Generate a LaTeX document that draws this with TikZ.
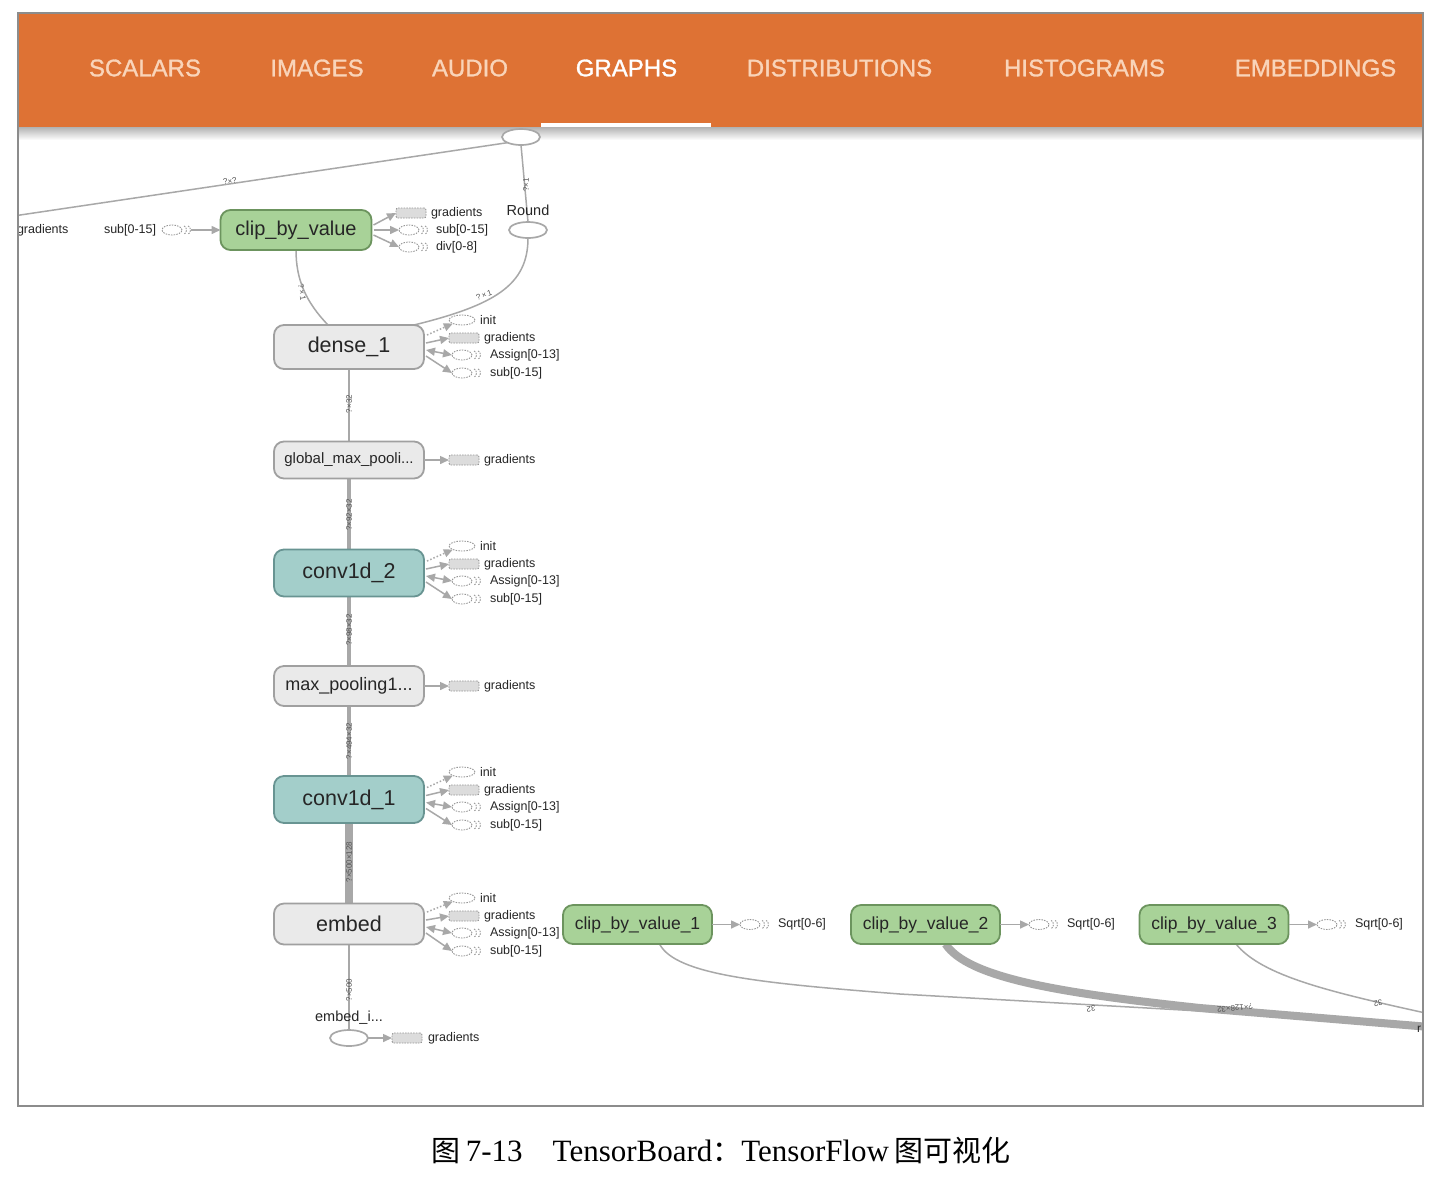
\documentclass[tikz,border=0pt]{standalone}
\usepackage{fontspec}
\setmainfont{Liberation Sans}
\newfontfamily\tabfont[FakeBold=1.2]{Liberation Sans}
\newfontfamily\cjk{Noto Sans CJK SC}
\newfontfamily\capserif{Liberation Serif}
\usetikzlibrary{arrows.meta,shapes.geometric,calc}
\pgfdeclarelayer{edges}
\pgfsetlayers{edges,main}
\definecolor{tborange}{RGB}{222,114,52}
\definecolor{tabtxt}{RGB}{249,212,185}
\definecolor{framec}{RGB}{140,140,140}
\definecolor{txt}{RGB}{38,38,38}
\definecolor{edgec}{RGB}{168,168,168}
\definecolor{lblc}{RGB}{85,85,85}
\definecolor{stubc}{RGB}{150,150,150}
\definecolor{stubfill}{RGB}{220,220,220}
\definecolor{ngray}{RGB}{234,234,234}
\definecolor{ngrayb}{RGB}{160,160,160}
\definecolor{ngreen}{RGB}{168,210,152}
\definecolor{ngreenb}{RGB}{108,148,94}
\definecolor{nteal}{RGB}{163,206,202}
\definecolor{ntealb}{RGB}{104,148,146}
\tikzset{
 every node/.style={inner sep=0pt,outer sep=0pt},
 tab/.style={font=\tabfont\fontsize{24}{24}\selectfont, text=tabtxt},
 opbase/.style={draw, rounded corners=10pt, line width=1.8pt, minimum width=150pt, text=txt},
 opgray/.style={opbase, fill=ngray, draw=ngrayb},
 opgreen/.style={opbase, fill=ngreen, draw=ngreenb},
 opteal/.style={opbase, fill=nteal, draw=ntealb},
 big/.style={font=\fontsize{21.5}{21.5}\selectfont},
 hollow/.style={ellipse, draw=edgec, line width=1.7pt, fill=white, minimum width=38pt, minimum height=16pt},
 edge/.style={draw=edgec, line width=1.5pt},
 sedge/.style={draw=edgec, line width=1.5pt},
 tip/.style={-{Triangle[length=9pt,width=8pt]}},
 bitip/.style={{Triangle[length=9pt,width=8pt]}-{Triangle[length=9pt,width=8pt]}},
 elab/.style={font=\fontsize{8}{8}\selectfont, text=lblc},
 stublab/.style={anchor=west, font=\fontsize{12.5}{12.5}\selectfont, text=txt},
 sdash/.style={draw=stubc, line width=0.9pt, dash pattern=on 1.5pt off 1.2pt},
 gradstub/.style={sdash, fill=stubfill, rounded corners=2pt, minimum width=30pt, minimum height=10pt},
 initstub/.style={sdash, ellipse, fill=white, minimum width=26pt, minimum height=10pt},
 serstub/.style={sdash, ellipse, fill=white, minimum width=20pt, minimum height=10pt},
}
\newcommand\serarcs[1]{%
  \draw[sdash] ($(#1.east)+(2,-4)$) arc[start angle=-90,end angle=90,x radius=2.5,y radius=4];
  \draw[sdash] ($(#1.east)+(6,-4)$) arc[start angle=-90,end angle=90,x radius=2.5,y radius=4];
}
\newcommand\varside[3]{%
  \node[initstub] (#1-i) at (#2+38,#3-27) {};
  \node[gradstub] (#1-g) at (#2+40,#3-9) {};
  \node[serstub] (#1-a) at (#2+38,#3+8) {}; \serarcs{#1-a}
  \node[serstub] (#1-s) at (#2+38,#3+26) {}; \serarcs{#1-s}
  \node[stublab] (#1-il) at (#2+56,#3-27) {init};
  \node[stublab] (#1-gl) at (#2+60,#3-9) {gradients};
  \node[stublab] (#1-al) at (#2+66,#3+8) {Assign[0-13]};
  \node[stublab] (#1-sl) at (#2+66,#3+26) {sub[0-15]};
  \draw[sedge, dotted, tip] ($(#1.east)+(3,-12)$) -- (#1-i.south west);
  \draw[sedge, tip] ($(#1.east)+(2,-4)$) -- (#1-g.west);
  \draw[sedge, bitip] ($(#1.east)+(2,3)$) -- (#1-a.west);
  \draw[sedge, tip] ($(#1.east)+(2,9)$) -- (#1-s.west);
}
\newcommand\gradside[3]{%
  \node[gradstub] (#1-g) at (#2+40,#3) {};
  \node[stublab] (#1-gl) at (#2+60,#3) {gradients};
  \draw[sedge, tip] (#1.east) -- (#1-g.west);
}
\newcommand\sqrtside[3]{%
  \node[serstub] (#1-q) at (#2+38,#3) {}; \serarcs{#1-q}
  \node[stublab] (#1-ql) at (#2+66,#3) {Sqrt[0-6]};
  \draw[sedge, tip] (#1.east) -- (#1-q.west);
}
\begin{document}
\begin{tikzpicture}[x=1pt,y=-1pt]
\useasboundingbox (0,0) rectangle (1450,1176);
% header
\fill[tborange] (18,13) rectangle (1423,127);
\shade[top color=black!30, bottom color=white] (18,127) rectangle (1423,140);
\node[tab] (t1) at (145,68) {SCALARS};
\node[tab] (t2) at (317,68) {IMAGES};
\node[tab] (t3) at (470,68) {AUDIO};
\node[tab, text=white] (t4) at (626.5,68) {GRAPHS};
\node[tab] (t5) at (839.5,68) {DISTRIBUTIONS};
\node[tab] (t6) at (1084.5,68) {HISTOGRAMS};
\node[tab] (t7) at (1315.5,68) {EMBEDDINGS};
\fill[white] (541,123) rectangle (711,127);

% op nodes
\node[hollow] (topop) at (521,137) {};
\node[hollow] (round) at (528,230) {};
\node[font=\fontsize{14.5}{14.5}\selectfont, text=txt] (roundl) at (528,210) {Round};
\node[opgreen, font=\fontsize{20}{20}\selectfont, minimum width=151pt, minimum height=40pt] (cbv) at (296,230) {clip\_by\_value};
\node[opgray, big, minimum height=44pt] (dense) at (349,347) {dense\_1};
\node[opgray, font=\fontsize{15}{15}\selectfont, minimum height=37pt] (gmp) at (349,460) {global\_max\_pooli...};
\node[opteal, big, minimum height=47pt] (conv2) at (349,573) {conv1d\_2};
\node[opgray, font=\fontsize{18}{18}\selectfont, minimum height=40pt] (mp) at (349,686) {max\_pooling1...};
\node[opteal, big, minimum height=47pt] (conv1) at (349,799.5) {conv1d\_1};
\node[opgray, big, minimum height=41pt] (embed) at (349,924) {embed};
\node[hollow] (embedi) at (349,1038) {};
\node[font=\fontsize{14.5}{14.5}\selectfont, text=txt] (embedil) at (349,1018) {embed\_i...};
\node[opgreen, font=\fontsize{17.5}{17.5}\selectfont, minimum width=149pt, minimum height=39pt] (cbv1) at (637.5,924.5) {clip\_by\_value\_1};
\node[opgreen, font=\fontsize{17.5}{17.5}\selectfont, minimum width=149pt, minimum height=39pt] (cbv2) at (925.5,924.5) {clip\_by\_value\_2};
\node[opgreen, font=\fontsize{17.5}{17.5}\selectfont, minimum width=149pt, minimum height=39pt] (cbv3) at (1214,924.5) {clip\_by\_value\_3};

% side stubs of clip_by_value
\node[stublab] (lgrad) at (17,230) {gradients};
\node[stublab] (lsubl) at (104,230) {sub[0-15]};
\node[serstub] (lsub) at (172,230) {}; \serarcs{lsub}
\draw[sedge, tip] ($(lsub.east)+(9,0)$) -- (cbv.west);
\node[gradstub] (cg) at (411,213) {};
\node[serstub] (cs) at (409,230) {}; \serarcs{cs}
\node[serstub] (cd) at (409,247) {}; \serarcs{cd}
\node[stublab] (cgl) at (431,213) {gradients};
\node[stublab] (csl) at (436,230) {sub[0-15]};
\node[stublab] (cdl) at (436,247) {div[0-8]};
\draw[sedge, tip] ($(cbv.east)+(2,-5)$) -- (cg.west);
\draw[sedge, tip] ($(cbv.east)+(2,0)$) -- (cs.west);
\draw[sedge, tip] ($(cbv.east)+(2,5)$) -- (cd.west);

\varside{dense}{424}{347}
\gradside{gmp}{424}{460}
\varside{conv2}{424}{573}
\gradside{mp}{424}{686}
\varside{conv1}{424}{799}
\varside{embed}{424}{925}
\node[gradstub] (ei-g) at (407,1038) {};
\node[stublab] (ei-gl) at (428,1038) {gradients};
\draw[sedge, tip] (embedi.east) -- (ei-g.west);
\sqrtside{cbv1}{712}{924.5}
\sqrtside{cbv2}{1001}{924.5}
\sqrtside{cbv3}{1289}{924.5}
\node[font=\fontsize{12}{12}\selectfont, text=txt, anchor=west] (cutr) at (1417,1029) {r};

% edges (below nodes)
\begin{pgfonlayer}{edges}
\fill[white] (0,0) rectangle (1450,1176);
\begin{scope}
\clip (18,127) rectangle (1423,1106);
\coordinate (leftend) at (0,218);
\draw[edge] (topop.south west) -- (leftend);
\node[elab, rotate=8.8] (l1) at (230,181) {?×?};
\draw[edge] (topop.south) -- (round.north);
\node[elab, rotate=90] (l2) at (526,185) {?×1};
\draw[edge] (round.south) .. controls (528,285) and (495,305) .. ($(dense.north east)+(-10,0)$);
\node[elab, rotate=20] (l3) at (484,295) {?\,×\,1};
\draw[edge] (cbv.south) .. controls (296,280) and (306,302) .. ($(dense.north)+(-21,0)$);
\node[elab, rotate=-80] (l4) at (302,292) {?\,×\,1};
\draw[edge] (dense.south) -- (gmp.north);
\node[elab, rotate=90] (l5) at (349,404) {?×32};
\draw[edge, line width=4pt] (gmp.south) -- (conv2.north);
\node[elab, rotate=90] (l6) at (349,515) {?×92×32};
\draw[edge, line width=4pt] (conv2.south) -- (mp.north);
\node[elab, rotate=90] (l7) at (349,630) {?×98×32};
\draw[edge, line width=4pt] (mp.south) -- (conv1.north);
\node[elab, rotate=90] (l8) at (349,741) {?×494×32};
\draw[edge, line width=8pt] (conv1.south) -- (embed.north);
\node[elab, rotate=90] (l9) at (349,862) {?×500×128};
\draw[edge] (embed.south) -- (embedi.north);
\node[elab, rotate=90] (l10) at (349,990) {?×500};
\coordinate (r1) at (1430,1024);
\coordinate (r2) at (1430,1027);
\coordinate (r3) at (1430,1014);
\draw[edge] ($(cbv1.south)+(22,0)$) .. controls (676,975) and (760,983) .. (900,994) -- (r1);
\node[elab, rotate=183.5] (l11) at (1091,1009) {32};
\draw[edge, line width=8pt] ($(cbv2.south)+(20,0)$) .. controls (968,978) and (1060,993) .. (1200,1008) -- (r2);
\node[elab, rotate=185] (l12) at (1235,1008) {?×128×32};
\draw[edge] ($(cbv3.south)+(22,0)$) .. controls (1262,976) and (1330,992) .. (r3);
\node[elab, rotate=195] (l13) at (1378,1003) {32};
\end{scope}
\end{pgfonlayer}

% frame
\draw[framec, line width=1.5pt] (18,13) rectangle (1423,1106);

% caption
\node[font=\fontsize{31}{31}\selectfont\capserif, text=black] (cap) at (721,1150)
  {{\cjk\fontsize{29}{29}\selectfont 图}\,7-13\hspace{30pt}TensorBoard{\cjk\fontsize{29}{29}\selectfont ：}TensorFlow\,{\cjk\fontsize{29}{29}\selectfont 图可视化}};
\end{tikzpicture}
\end{document}
